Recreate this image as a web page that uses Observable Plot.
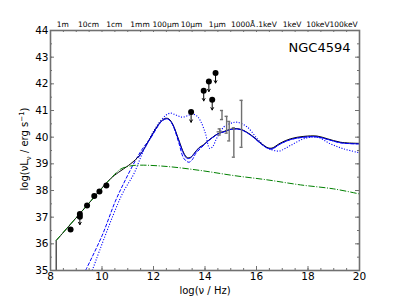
<!DOCTYPE html>
<html><head><meta charset="utf-8">
<script src="https://cdn.jsdelivr.net/npm/d3@7"></script>
<script src="https://cdn.jsdelivr.net/npm/@observablehq/plot@0.6"></script>
<style>body{margin:0;background:#fff}</style>
</head><body><div id="chart"></div>
<script>
// ---- data ----
const cutX = [8.22,8.22];
const cutY = [35.0,36.12];
const totalX = [8.22,9.3,10.33,10.64,11.03,11.37,11.56,11.82,12.08,12.3,12.47,12.6,12.75,12.98,13.18,13.31,13.45,13.57,13.76,13.95,14.1,14.3,14.5,14.73,15.0,15.2,15.4,15.6,15.9,16.2,16.45,16.6,16.93,17.32,17.84,18.36,18.75,19.26,19.9,20];
const totalY = [36.12,37.31,38.44,38.68,38.94,39.22,39.45,39.88,40.31,40.6,40.71,40.68,40.48,39.9,39.4,39.23,39.25,39.38,39.6,39.72,39.85,40.0,40.13,40.21,40.3,40.32,40.29,40.2,40.0,39.75,39.6,39.59,39.78,39.94,40.03,40.04,39.94,39.81,39.77,39.77];

const modelX = [11.4,11.56,11.82,12.08,12.3,12.47,12.6,12.75,12.98,13.18,13.31,13.45,13.57,13.76,13.95,14.1,14.3,14.5,14.73,15.0,15.2,15.4,15.6,15.9,16.2,16.45,16.6,16.93,17.32,17.84,18.36,18.75,19.26,19.9,20];
const modelY = [39.22,39.44,39.86,40.29,40.58,40.69,40.66,40.46,39.87,39.36,39.2,39.23,39.36,39.58,39.7,39.84,39.99,40.12,40.2,40.29,40.31,40.28,40.19,39.98,39.73,39.58,39.56,39.75,39.91,40.0,40.01,39.92,39.79,39.75,39.75];

const dashX = [9.36,10.0,10.52,10.91,11.37,11.62,11.88,12.1,12.3,12.47,12.6,12.75,12.98,13.18,13.37,13.5,13.65,13.8,13.95,14.1,14.3,14.5,14.73,15.0,15.2,15.4,15.6,15.9,16.2,16.45,16.6,16.93,17.32,17.84,18.36,18.75,19.26,19.9,20];
const dashY = [35.0,36.3,37.6,38.4,39.25,39.63,39.95,40.3,40.58,40.68,40.66,40.45,39.8,39.2,39.06,39.15,39.4,39.55,39.7,39.84,39.99,40.12,40.2,40.29,40.31,40.28,40.19,39.98,39.73,39.58,39.56,39.75,39.91,40.0,40.01,39.92,39.79,39.75,39.75];

const dotX = [9.62,10.75,11.24,11.56,11.88,12.14,12.47,12.66,12.9,13.1,13.31,13.5,13.7,13.83,14.02,14.18,14.3,14.45,14.73,15.0,15.25,15.64,16.03,16.3,16.54,16.87,17.32,17.84,18.36,18.87,19.39,19.97];
const dotY = [35.0,37.8,38.63,39.38,40.0,40.44,40.81,40.9,40.82,40.75,40.8,40.87,40.78,40.6,40.13,39.58,39.65,39.95,40.38,40.52,40.56,40.38,39.94,39.68,39.55,39.48,39.69,39.94,40.0,39.75,39.56,39.42];

const radioX = [8.21,9.3,10.33,10.72,11.1,11.5,12.53,13.83,15.12,16.41,17.71,19.0,20];
const radioY = [36.12,37.31,38.44,38.8,38.92,38.95,38.9,38.75,38.56,38.4,38.21,38.06,37.87];

const ptX = [8.78,9.14,9.14,9.42,9.70,9.90,10.17];
const ptY = [36.54,37.12,37.02,37.44,37.79,37.96,38.19];
const ptLimit = [false,false,true,false,false,false,false];

const limX = [13.46,13.95,14.15,14.41,14.28];
const limY = [40.94,41.74,42.09,42.41,41.40];

const errX  = [14.66,14.57,14.84,14.94,15.12,15.42];
const errLo = [40.66,40.08,40.15,39.86,39.25,39.62];
const errHi = [41.00,40.31,40.78,40.59,40.35,41.38];
const errXlo = [null,14.47,null,null,null,null];
const errXhi = [null,14.67,null,null,null,null];
const errXc  = [null,40.2,null,null,null,null];

const xMajor = [8,10,12,14,16,18,20];
const yMajor = [35,36,37,38,39,40,41,42,43,44];
const topLabels = ["1m","10cm","1cm","1mm","100\u03bcm","10\u03bcm","1\u03bcm","1000\u00c5",".1keV","1keV","10keV","100keV"];
const topPos = [8.477,9.477,10.477,11.477,12.477,13.477,14.477,15.477,16.383,17.383,18.383,19.383];
const title = "NGC4594";

// ---- build ----
const xMinor = d3.range(8, 20.01, 0.5);
const yMinor = d3.range(35, 44.01, 0.5);
const pts = (xs, ys) => xs.map((x, i) => ({x, y: ys[i]}));
const grey = "#707070";
const PW = 309, PH = 240;
const errIdx = errX.map((_, i) => i);
const hIdx = errIdx.filter(i => errXlo[i] != null);
const radio = ptX.map((x, i) => ({x, y: ptY[i], lim: ptLimit[i]}));
const lims = limX.map((x, i) => ({x, y: limY[i]}));
const lineOpts = {x: "x", y: "y", strokeWidth: 1, strokeLinecap: "butt", curve: "catmull-rom"};

const chart = Plot.plot({
  width: 400, height: 300,
  marginLeft: 50, marginRight: 41, marginTop: 30, marginBottom: 30,
  x: {domain: [8, 20]},
  y: {domain: [35, 44]},
  style: {fontFamily: "DejaVu Sans", background: "#fff", color: "#000"},
  marks: [
    Plot.line(pts(dotX, dotY), {...lineOpts, stroke: "blue", strokeWidth: 1.1, strokeDasharray: "1.1,1.6"}),
    Plot.line(pts(dashX, dashY), {...lineOpts, stroke: "blue", strokeDasharray: "3.7,1.6"}),
    Plot.line(pts(cutX, cutY), {...lineOpts, stroke: "black", curve: "linear"}),
    Plot.line(pts(totalX, totalY), {...lineOpts, stroke: "black"}),
    Plot.line(pts(radioX, radioY), {...lineOpts, stroke: "green", strokeDasharray: "6.4,1.6,1,1.6"}),
    Plot.line(pts(modelX, modelY), {...lineOpts, stroke: "blue", strokeWidth: 0.9}),
    // error bars
    Plot.ruleX(errIdx, {x: i => errX[i], y1: i => errLo[i], y2: i => errHi[i], stroke: grey, strokeWidth: 1.4}),
    Plot.ruleY(errIdx, {y: i => errLo[i], x1: i => errX[i] - 0.06, x2: i => errX[i] + 0.06, stroke: grey, strokeWidth: 1.4}),
    Plot.ruleY(errIdx, {y: i => errHi[i], x1: i => errX[i] - 0.06, x2: i => errX[i] + 0.06, stroke: grey, strokeWidth: 1.4}),
    Plot.ruleY(hIdx, {y: i => errXc[i], x1: i => errXlo[i], x2: i => errXhi[i], stroke: grey, strokeWidth: 1.4}),
    // points
    Plot.arrow(radio.filter(d => d.lim), {x1: "x", y1: "y", x2: "x", y2: d => d.y - 0.3, stroke: "black", strokeWidth: 1, headLength: 4}),
    Plot.dot(radio, {x: "x", y: "y", r: 3, fill: "black"}),
    Plot.arrow(lims, {x1: "x", y1: "y", x2: "x", y2: d => d.y - 0.38, stroke: "black", strokeWidth: 1, headLength: 4}),
    Plot.dot(lims, {x: "x", y: "y", r: 3, fill: "black"}),
    // frame & inward ticks
    Plot.frame({stroke: grey, strokeWidth: 1.6}),
    Plot.ruleX(xMajor, {stroke: grey, insetTop: PH - 4}),
    Plot.ruleX(xMinor, {stroke: grey, insetTop: PH - 2}),
    Plot.ruleX(xMinor, {stroke: grey, insetBottom: PH - 2}),
    Plot.ruleY(yMajor, {stroke: grey, insetRight: PW - 4}),
    Plot.ruleY(yMinor, {stroke: grey, insetRight: PW - 2}),
    Plot.ruleY(yMajor, {stroke: grey, insetLeft: PW - 4}),
    Plot.ruleY(yMinor, {stroke: grey, insetLeft: PW - 2}),
    // axes
    Plot.axisX(xMajor, {anchor: "bottom", tickSize: 0, tickPadding: 2, fontSize: 10.5, label: null}),
    Plot.axisY(yMajor, {anchor: "left", tickSize: 0, tickPadding: 2, fontSize: 10.5, label: null}),
    Plot.axisX(topPos, {anchor: "top", tickSize: 0, tickPadding: 4, fontSize: 7.5, label: null, tickFormat: d => topLabels[topPos.indexOf(d)]}),
    Plot.text([title], {text: d => d, frameAnchor: "top-right", dx: -9, dy: 21, lineAnchor: "bottom", textAnchor: "end", fontSize: 13}),
    Plot.text(["log(\u03bd / Hz)"], {text: d => d, frameAnchor: "bottom", dy: 20, lineAnchor: "middle", fontSize: 10})
  ]
});

// y label with sub/superscripts as real text
const svg = d3.select(chart);
const yl = svg.append("text")
  .attr("transform", "translate(28,149) rotate(-90)")
  .attr("text-anchor", "middle")
  .attr("font-family", "DejaVu Sans")
  .attr("font-size", 10)
  .attr("fill", "black");
yl.append("tspan").text("log(\u03bdL");
yl.append("tspan").attr("dy", 3).attr("font-size", 7).text("\u03bd");
yl.append("tspan").attr("dy", -3).text(" / erg s");
yl.append("tspan").attr("dy", -4).attr("font-size", 7).text("\u22121");
yl.append("tspan").attr("dy", 4).text(")");

document.getElementById("chart").appendChild(chart);
</script>
</body></html>
